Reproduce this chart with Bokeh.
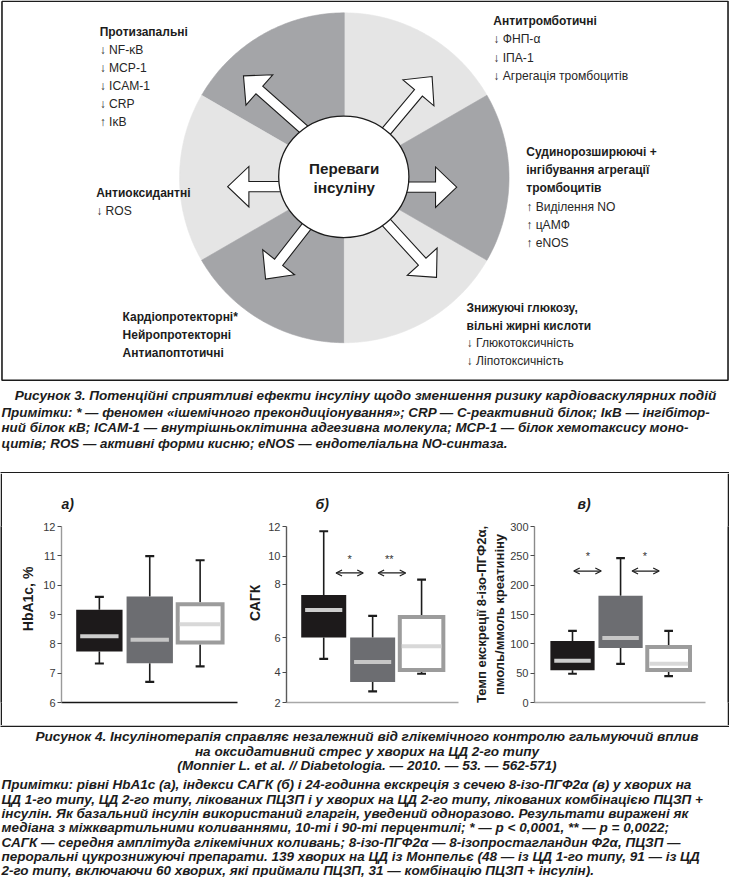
import numpy as np
from bokeh.plotting import figure
from bokeh.layouts import column, row
from bokeh.models import Range1d, FixedTicker, Arrow, OpenHead
from bokeh.core.properties import value
from bokeh.embed import file_html
from bokeh.resources import INLINE

FONT = "Liberation Sans"
INK = "#1c1c1c"

# ---------------- Figure 3: texts ----------------
fig3_center = ["Переваги", "інсуліну"]
fig3_tl = ["Протизапальні", "↓ NF-κB", "↓ MCP-1", "↓ ICAM-1", "↓ CRP", "↑ IκB"]
fig3_tr = ["Антитромботичні", "↓ ФНП-α", "↓ ІПА-1", "↓ Агрегація тромбоцитів"]
fig3_r = ["Судинорозширюючі +", "інгібування агрегації", "тромбоцитів",
          "↑ Виділення NO", "↑ цАМФ", "↑ eNOS"]
fig3_l = ["Антиоксидантні", "↓ ROS"]
fig3_bl = ["Кардіопротекторні*", "Нейропротекторні", "Антиапоптотичні"]
fig3_br = ["Знижуючі глюкозу,", "вільні жирні кислоти", "↓ Глюкотоксичність", "↓ Ліпотоксичність"]
fig3_caption = "Рисунок 3. Потенційні сприятливі ефекти інсуліну щодо зменшення ризику кардіоваскулярних подій"
fig3_notes = [
    "Примітки: * — феномен «ішемічного прекондиціонування»; CRP — С-реактивний білок; IκB — інгібітор-",
    "ний білок κB; ICAM-1 — внутрішньоклітинна адгезивна молекула; MCP-1 — білок хемотаксису моно-",
    "цитів; ROS — активні форми кисню; eNOS — ендотеліальна NO-синтаза.",
]

# ---------------- Figure 4: data ----------------
groups = ["ЦД 1-го типу", "ЦД 2-го типу (ПЦЗП)", "ЦД 2-го типу (ПЦЗП + інсулін)"]
panel_titles = ["а)", "б)", "в)"]

hba1c_low = [7.33, 6.70, 7.23]
hba1c_q1 = [7.74, 7.34, 7.98]
hba1c_med = [8.26, 8.14, 8.67]
hba1c_q3 = [9.16, 9.61, 9.42]
hba1c_high = [9.60, 10.99, 10.85]
hba1c_ticks = [6, 7, 8, 9, 10, 11, 12]

sagk_low = [4.76, 2.73, 3.89]
sagk_q1 = [6.00, 3.34, 4.00]
sagk_med = [7.03, 4.59, 5.49]
sagk_q3 = [7.59, 6.00, 6.84]
sagk_high = [11.68, 6.81, 8.32]
sagk_ticks = [2, 4, 6, 8, 10, 12]

isop_low = [49, 66, 45]
isop_q1 = [55, 93, 52]
isop_med = [71, 110, 66]
isop_q3 = [105, 182, 98]
isop_high = [122, 246, 122]
isop_ticks = [0, 50, 100, 150, 200, 250, 300]

sagk_sig = ["*", "**"]
isop_sig = ["*", "*"]

fig4_caption = [
    "Рисунок 4. Інсулінотерапія справляє незалежний від глікемічного контролю гальмуючий вплив",
    "на оксидативний стрес у хворих на ЦД 2-го типу",
    "(Monnier L. et al. // Diabetologia. — 2010. — 53. — 562-571)",
]
fig4_notes = [
    "Примітки: рівні HbA1c (а), індекси САГК (б) і 24-годинна екскреція з сечею 8-ізо-ПГФ2α (в) у хворих на",
    "ЦД 1-го типу, ЦД 2-го типу, лікованих ПЦЗП і у хворих на ЦД 2-го типу, лікованих комбінацією ПЦЗП +",
    "інсулін. Як базальний інсулін використаний гларгін, уведений одноразово. Результати виражені як",
    "медіана з міжквартильними коливаннями, 10-ті і 90-ті перцентилі; * — p < 0,0001, ** — p = 0,0022;",
    "САГК — середня амплітуда глікемічних коливань; 8-ізо-ПГФ2α — 8-ізопростагландин Ф2α, ПЦЗП —",
    "пероральні цукрознижуючі препарати. 139 хворих на ЦД із Монпельє (48 — із ЦД 1-го типу, 91 — із ЦД",
    "2-го типу, включаючи 60 хворих, які приймали ПЦЗП, 31 — комбінацію ПЦЗП + інсулін).",
]

# ---------------- page geometry ----------------
W, H = 729, 877
X0, Y0 = 3.0, 3.0
SX = W / 739.0
SY = H / 888.0
TOP_H, MID_H = 473, 252
BOT_H = H - TOP_H - MID_H


def canvas(height, y0, y1):
    p = figure(width=W, height=height, x_range=Range1d(X0, X0 + W / SX), y_range=Range1d(y0, y1),
               toolbar_location=None, output_backend="svg", min_border=0, title=None,
               x_axis_location=None, y_axis_location=None, outline_line_color=None)
    p.grid.visible = False
    p.background_fill_color = "white"
    p.border_fill_color = "white"
    return p


# =============== top: Figure 3 =================
top = canvas(TOP_H, Y0 + TOP_H / SY, Y0)

top.line(x=[4.5, 740.5, 740.5, 4.5, 4.5], y=[3.8, 3.8, 387.5, 387.5, 3.8], line_color=INK, line_width=1.6)

CX, CY, R = 351.5, 182.5, 167.0
edges = [30, 90, 150, 210, 270, 330, 390]
LIGHT, DARK = "#e5e5e5", "#a4a5a8"
sec_cols = [LIGHT, DARK, LIGHT, DARK, LIGHT, DARK]
xs_s, ys_s = [], []
for a0, a1 in zip(edges[:-1], edges[1:]):
    t = np.radians(np.linspace(a0, a1, 80))
    xs_s.append([CX] + list(CX + R * np.cos(t)))
    ys_s.append([CY] + list(CY - R * np.sin(t)))
top.patches(xs_s, ys_s, fill_color=sec_cols, line_color=sec_cols, line_width=0.6)

ICX, ICY = 351.0, 181.5
arrow_specs = [(249.3, 79.3, 138.5), (440.5, 80.0, 50.0), (233.3, 191.5, 180.0),
               (465.5, 192.0, 0.0), (271.7, 285.0, -128.0), (445.0, 283.3, -47.5)]
ax_l, ay_l = [], []
for tx, ty, ang in arrow_specs:
    a = np.radians(ang)
    dx, dy = np.cos(a), -np.sin(a)
    nx, ny = -dy, dx
    HL, HH, SH = 21.5, 20.5, 5.2
    L = np.hypot(tx - ICX, ty - ICY) - 12
    bx, by = tx - HL * dx, ty - HL * dy
    ex, ey = tx - L * dx, ty - L * dy
    ax_l.append([tx, bx + HH * nx, bx + SH * nx, ex + SH * nx, ex - SH * nx, bx - SH * nx, bx - HH * nx])
    ay_l.append([ty, by + HH * ny, by + SH * ny, ey + SH * ny, ey - SH * ny, by - SH * ny, by - HH * ny])
top.patches(ax_l, ay_l, fill_color="white", line_color=INK, line_width=1.1, line_join="miter")

top.ellipse(x=[ICX], y=[ICY], width=132, height=123, fill_color="white", line_color=INK, line_width=1.3)

top.text(x=[351.5, 351.5], y=[173.3, 192.7], text=fig3_center, text_font=value(FONT),
         text_font_style="bold", text_font_size="15.2px", text_color=INK,
         text_align="center", text_baseline="middle")


def block(p, lines, x, y0, step, n_bold):
    ys = [y0 + i * step for i in range(len(lines))]
    if n_bold:
        p.text(x=[x] * n_bold, y=ys[:n_bold], text=lines[:n_bold], text_font=value(FONT),
               text_font_style="bold", text_font_size="12px", text_color=INK,
               text_align="left", text_baseline="middle")
    rest = len(lines) - n_bold
    if rest:
        p.text(x=[x] * rest, y=ys[n_bold:], text=lines[n_bold:], text_font=value(FONT),
               text_font_style="normal", text_font_size="12.1px", text_color="#262626",
               text_align="left", text_baseline="middle")


block(top, fig3_tl, 103.5, 34.5, 18.3, 1)
block(top, fig3_tr, 502.6, 24.0, 18.4, 1)
block(top, fig3_r, 536.0, 156.7, 18.3, 3)
block(top, fig3_l, 100.0, 197.7, 18.3, 1)
block(top, fig3_bl, 126.8, 323.3, 18.3, 3)
block(top, fig3_br, 475.5, 314.0, 18.1, 2)

top.text(x=[373], y=[403.3], text=[fig3_caption], text_font=value(FONT), text_font_style="bold italic",
         text_font_size="13.6px", text_color=INK, text_align="center", text_baseline="middle")
top.text(x=[4] * 3, y=[420.0, 435.8, 451.5], text=fig3_notes, text_font=value(FONT),
         text_font_style="bold italic", text_font_size="13.4px", text_color=INK,
         text_align="left", text_baseline="middle")

top.line(x=[2.0, 743.0], y=[481.3, 481.3], line_color=INK, line_width=1.6)

# =============== middle: Figure 4 panels =================
positions = [1, 2, 3]
box_widths = np.array([0.92, 0.92, 0.97])
box_fill = ["#1d1a1b", "#6c6d71"]
median_cols = ["#cdcdcd", "#c6c6c6", "#d8d8d8"]
BOX3_EDGE = "#9c9c9c"
PANEL_TOP, PANEL_BOT = 53, 23
FRAME_H = MID_H - PANEL_TOP - PANEL_BOT


def make_panel(title, width, left, right, xr, yr, ticks, labels, ylabel, ysize, ystandoff,
               title_offset, ycol, xcol):
    p = figure(width=width, height=MID_H, x_range=Range1d(*xr), y_range=Range1d(*yr),
               toolbar_location=None, output_backend="svg", title=title,
               min_border_left=left, min_border_right=right,
               min_border_top=PANEL_TOP, min_border_bottom=PANEL_BOT)
    p.title.text_font = FONT
    p.title.text_font_style = "bold italic"
    p.title.text_font_size = "14px"
    p.title.text_color = INK
    p.title.align = "left"
    p.title.offset = title_offset
    p.title.standoff = 30
    p.grid.visible = False
    p.outline_line_color = None
    p.background_fill_color = "white"
    p.border_fill_color = "white"
    xa = p.xaxis[0]
    xa.ticker = FixedTicker(ticks=[])
    xa.major_tick_line_color = None
    xa.minor_tick_line_color = None
    xa.major_label_text_font_size = "0px"
    xa.axis_line_color = xcol
    xa.axis_line_width = 1.5
    ya = p.yaxis[0]
    ya.ticker = FixedTicker(ticks=list(ticks))
    if labels is not None:
        ya.major_label_overrides = {t: l for t, l in zip(ticks, labels)}
    ya.axis_line_color = ycol
    ya.axis_line_width = 1.4
    ya.major_tick_line_color = "#4a4a4a"
    ya.major_tick_out = 4
    ya.major_tick_in = 0
    ya.minor_tick_line_color = None
    ya.major_label_text_font = FONT
    ya.major_label_text_font_size = "11px"
    ya.major_label_text_color = "#3a3a3a"
    ya.major_label_standoff = 2
    ya.axis_label = ylabel
    ya.axis_label_text_font = FONT
    ya.axis_label_text_font_style = "bold"
    ya.axis_label_text_font_size = ysize
    ya.axis_label_text_color = INK
    ya.axis_label_standoff = ystandoff
    return p


def draw_boxes(p, low, q1, med, q3, high, ppx, ppy):
    xs = np.array(positions, float)
    low, q1, med, q3, high = [np.asarray(v, float) for v in (low, q1, med, q3, high)]
    w = box_widths
    p.segment(x0=xs, y0=q3, x1=xs, y1=high, line_color=INK, line_width=1.6)
    p.segment(x0=xs, y0=q1, x1=xs, y1=low, line_color=INK, line_width=1.6)
    cap = 4.5 / ppx
    p.segment(x0=xs - cap, y0=high, x1=xs + cap, y1=high, line_color=INK, line_width=2.2)
    p.segment(x0=xs - cap, y0=low, x1=xs + cap, y1=low, line_color=INK, line_width=2.2)
    p.quad(left=(xs - w / 2)[:2], right=(xs + w / 2)[:2], bottom=q1[:2], top=q3[:2],
           fill_color=box_fill, line_color=None)
    ix, iy = 2 / ppx, 2 / ppy
    p.quad(left=[xs[2] - w[2] / 2 + ix], right=[xs[2] + w[2] / 2 - ix], bottom=[q1[2] + iy],
           top=[q3[2] - iy], fill_color="white", line_color=BOX3_EDGE, line_width=4,
           line_join="miter")
    mi = 4 / ppx
    p.segment(x0=xs - w / 2 + mi, y0=med, x1=xs + w / 2 - mi, y1=med,
              line_color=median_cols, line_width=4)


def significance(p, x0s, x1s, y_arrow, x_stars, y_star, stars):
    for a, b in zip(x0s, x1s):
        p.add_layout(Arrow(start=OpenHead(size=6, line_width=1.2, line_color=INK),
                           end=OpenHead(size=6, line_width=1.2, line_color=INK),
                           x_start=a, y_start=y_arrow, x_end=b, y_end=y_arrow,
                           line_width=1.2, line_color=INK))
    p.text(x=x_stars, y=[y_star] * len(stars), text=stars, text_font=value(FONT),
           text_font_size="11px", text_color="#333333", text_align="center",
           text_baseline="middle", y_offset=3)


def xrange_for(axis_ref, end_ref, c1_ref, c3_ref):
    spacing = (c3_ref - c1_ref) / 2.0
    start = 1 - (c1_ref - axis_ref) / spacing
    return (start, start + (end_ref - axis_ref) / spacing)


NB = "\u00a0"

# panel a
A_W, A_L, A_R = 242, 59, 7
a_xr = xrange_for(65, 243, 103.3, 205.2)
pa = make_panel(panel_titles[0], A_W, A_L, A_R, a_xr, (6, 12), hba1c_ticks, None,
                NB * 8 + "HbA1c, %", "14px", 4, 0, "#9a9a9a", "#161616")
draw_boxes(pa, hba1c_low, hba1c_q1, hba1c_med, hba1c_q3, hba1c_high,
           (A_W - A_L - A_R) / (a_xr[1] - a_xr[0]), FRAME_H / 6.0)

# panel b: the original САГК axis has uneven tick spacing; reproduce it
sagk_tick_frac = [0.0, 0.173, 0.369, 0.673, 0.831, 1.0]


def sagk_pos(v):
    return np.interp(np.asarray(v, float), sagk_ticks, sagk_tick_frac)


B_W, B_L, B_R = 227, 39, 13
b_xr = xrange_for(290, 467, 328.3, 429.0)
pb = make_panel(panel_titles[1], B_W, B_L, B_R, b_xr, (0, 1), sagk_tick_frac,
                [str(t) for t in sagk_ticks], NB * 6 + "САГК", "14px", 2, 29, "#5a5a5a", "#a8a8a8")
draw_boxes(pb, sagk_pos(sagk_low), sagk_pos(sagk_q1), sagk_pos(sagk_med), sagk_pos(sagk_q3),
           sagk_pos(sagk_high), (B_W - B_L - B_R) / (b_xr[1] - b_xr[0]), FRAME_H / 1.0)
significance(pb, [1.252, 2.112], [1.808, 2.676], float(sagk_pos(8.8)), [1.53, 2.338],
             float(sagk_pos(10.0)), sagk_sig)

# panel c
C_W, C_L, C_R = 256, 57, 22
c_xr = xrange_for(538, 718, 578.0, 679.2)
pc = make_panel(panel_titles[2], C_W, C_L, C_R, c_xr, (0, 300), isop_ticks, None,
                "Темп екскреції 8-ізо-ПГФ2α,\nпмоль/ммоль креатиніну", "13px", 0, 43,
                "#8a8a8a", "#a8a8a8")
draw_boxes(pc, isop_low, isop_q1, isop_med, isop_q3, isop_high,
           (C_W - C_L - C_R) / (c_xr[1] - c_xr[0]), FRAME_H / 300.0)
significance(pc, [1.026, 2.239], [1.599, 2.804], 224, [1.32, 2.506], 254, isop_sig)


def vbar():
    f = figure(width=2, height=MID_H, toolbar_location=None, output_backend="svg", min_border=0,
               title=None, x_axis_location=None, y_axis_location=None, outline_line_color=None)
    f.grid.visible = False
    f.background_fill_color = INK
    f.border_fill_color = INK
    return f


mid = row(vbar(), pa, pb, pc, vbar())

# =============== bottom: captions of Figure 4 =================
bot = canvas(BOT_H, Y0 + H / SY, Y0 + (TOP_H + MID_H) / SY)
bot.line(x=[2.0, 743.0], y=[737.8, 737.8], line_color=INK, line_width=1.6)
bot.text(x=[374.5] * 3, y=[748.0, 763.0, 778.0], text=fig4_caption, text_font=value(FONT),
         text_font_style="bold italic", text_font_size="13.6px", text_color=INK,
         text_align="center", text_baseline="middle")
bot.text(x=[4] * 7, y=[797.0 + 14.55 * i for i in range(7)], text=fig4_notes, text_font=value(FONT),
         text_font_style="bold italic", text_font_size="13.5px", text_color=INK,
         text_align="left", text_baseline="middle")

layout = column(top, mid, bot)
open("out.html", "w").write(file_html(layout, INLINE))
